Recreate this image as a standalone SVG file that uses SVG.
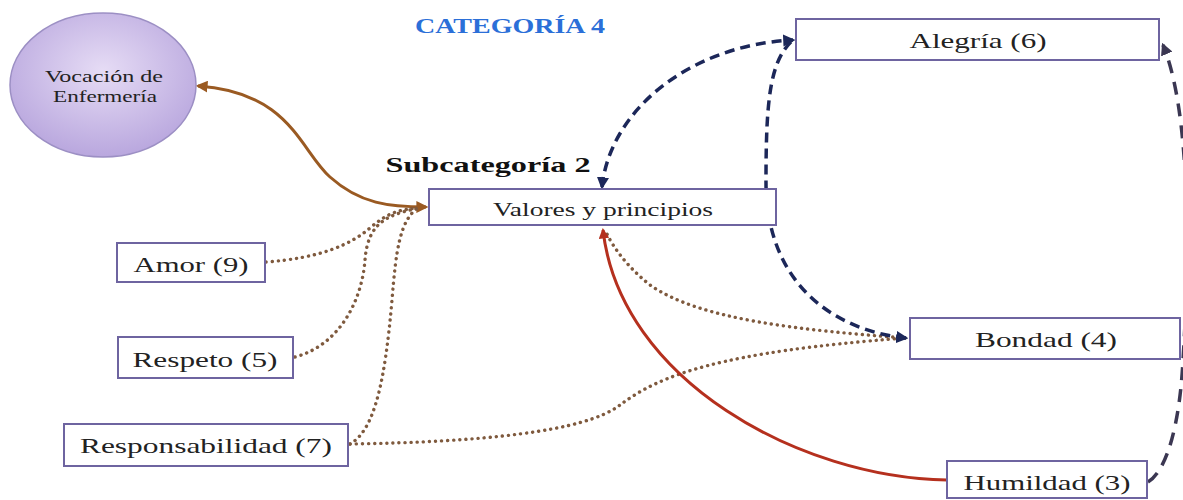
<svg xmlns="http://www.w3.org/2000/svg" width="1183" height="500" viewBox="0 0 1183 500">
<style>
.box{fill:#fff;stroke:#6e64a0;stroke-width:2}
.lbl{font-family:"Liberation Serif","Times New Roman",serif;fill:#222;text-anchor:middle}
.dot{fill:none;stroke:#7f5a3e;stroke-width:3.4;stroke-dasharray:0.1 6;stroke-linecap:round}
.navy{fill:none;stroke:#1c2759;stroke-width:3.5;stroke-dasharray:10 6}
.dark{fill:none;stroke:#3b3752;stroke-width:3.5;stroke-dasharray:13 9}
</style>
<defs>
<radialGradient id="eg" cx="0.5" cy="0.4" r="0.6">
<stop offset="0" stop-color="#e6dcf5"/>
<stop offset="1" stop-color="#b9a7de"/>
</radialGradient>
<marker id="aBrown" viewBox="0 0 10 10" refX="8" refY="5" markerWidth="4" markerHeight="4" orient="auto-start-reverse"><path d="M0 0L10 5L0 10z" fill="#9a5a22"/></marker>
<marker id="aNavy" viewBox="0 0 10 10" refX="8" refY="5" markerWidth="3.5" markerHeight="3.5" orient="auto-start-reverse"><path d="M0 0L10 5L0 10z" fill="#1c2759"/></marker>
<marker id="aDark" viewBox="0 0 10 10" refX="8" refY="5" markerWidth="3.5" markerHeight="3.5" orient="auto-start-reverse"><path d="M0 0L10 5L0 10z" fill="#3b3752"/></marker>
<marker id="aRed" viewBox="0 0 10 10" refX="8" refY="5" markerWidth="3.5" markerHeight="3.5" orient="auto-start-reverse"><path d="M0 0L10 5L0 10z" fill="#b5301e"/></marker>
</defs>
<rect width="1183" height="500" fill="#fff"/>
<text x="510" y="33" font-family="'Liberation Serif','Times New Roman',serif" font-weight="bold" font-size="22" fill="#2b6fd8" text-anchor="middle" textLength="190" lengthAdjust="spacingAndGlyphs">CATEGORÍA 4</text>
<text x="488" y="172" font-family="'Liberation Serif','Times New Roman',serif" font-weight="bold" font-size="21" fill="#111" text-anchor="middle" textLength="205" lengthAdjust="spacingAndGlyphs">Subcategoría 2</text>
<g id="connectors">
<path d="M198 86 C290 92 300 150 330 177 S390 207 426 207" fill="none" stroke="#9a5a22" stroke-width="3" marker-start="url(#aBrown)" marker-end="url(#aBrown)"/>
<path class="dot" d="M266 262 C320 258 350 245 370 228 S400 210 418 208"/>
<path class="dot" d="M295 357 C340 345 362 300 365 260 S390 215 418 208"/>
<path class="dot" d="M350 444 C375 430 385 380 392 300 C396 250 400 220 418 208"/>
<path class="dot" d="M350 444 C480 442 585 432 620 405 C660 375 720 352 905 338"/>
<path class="dot" d="M905 338 C800 330 700 320 650 285 C625 265 612 245 606 232"/>
<path class="navy" d="M602 187 C610 110 690 45 793 40" marker-start="url(#aNavy)" marker-end="url(#aNavy)"/>
<path class="navy" d="M906 338 C830 330 765 280 766 180 C766 100 770 60 793 40" marker-start="url(#aNavy)"/>
<path class="dark" d="M1148 482 C1168 470 1180 420 1183 360 C1190 250 1190 110 1163 45" marker-end="url(#aDark)"/>
<path d="M947 480 C800 478 620 380 603 230" fill="none" stroke="#b5301e" stroke-width="3" marker-end="url(#aRed)"/>
</g>
<g id="vocacion">
<ellipse cx="103" cy="85" rx="93" ry="72" fill="url(#eg)" stroke="#9c8fc4" stroke-width="1.5"/>
<text class="lbl" x="104" y="82" font-size="16" textLength="118" lengthAdjust="spacingAndGlyphs">Vocación de</text>
<text class="lbl" x="105" y="102" font-size="16" textLength="104" lengthAdjust="spacingAndGlyphs">Enfermería</text>
</g>
<g id="valores">
<rect class="box" x="429" y="189" width="347" height="36"/>
<text class="lbl" x="603" y="216" font-size="18" textLength="220" lengthAdjust="spacingAndGlyphs">Valores y principios</text>
</g>
<g id="alegria">
<rect class="box" x="796" y="19" width="363" height="41"/>
<text class="lbl" x="978" y="48" font-size="22" textLength="137" lengthAdjust="spacingAndGlyphs">Alegría (6)</text>
</g>
<g id="amor">
<rect class="box" x="117" y="243" width="148" height="39"/>
<text class="lbl" x="191" y="272" font-size="22" textLength="115" lengthAdjust="spacingAndGlyphs">Amor (9)</text>
</g>
<g id="respeto">
<rect class="box" x="118" y="337" width="175" height="41"/>
<text class="lbl" x="205" y="367" font-size="22" textLength="145" lengthAdjust="spacingAndGlyphs">Respeto (5)</text>
</g>
<g id="responsabilidad">
<rect class="box" x="64" y="424" width="284" height="42"/>
<text class="lbl" x="206" y="453" font-size="22" textLength="252" lengthAdjust="spacingAndGlyphs">Responsabilidad (7)</text>
</g>
<g id="bondad">
<rect class="box" x="910" y="318" width="270" height="41"/>
<text class="lbl" x="1046" y="347" font-size="22" textLength="142" lengthAdjust="spacingAndGlyphs">Bondad (4)</text>
</g>
<g id="humildad">
<rect class="box" x="947" y="461" width="200" height="37"/>
<text class="lbl" x="1047" y="490" font-size="22" textLength="167" lengthAdjust="spacingAndGlyphs">Humildad (3)</text>
</g>
</svg>
